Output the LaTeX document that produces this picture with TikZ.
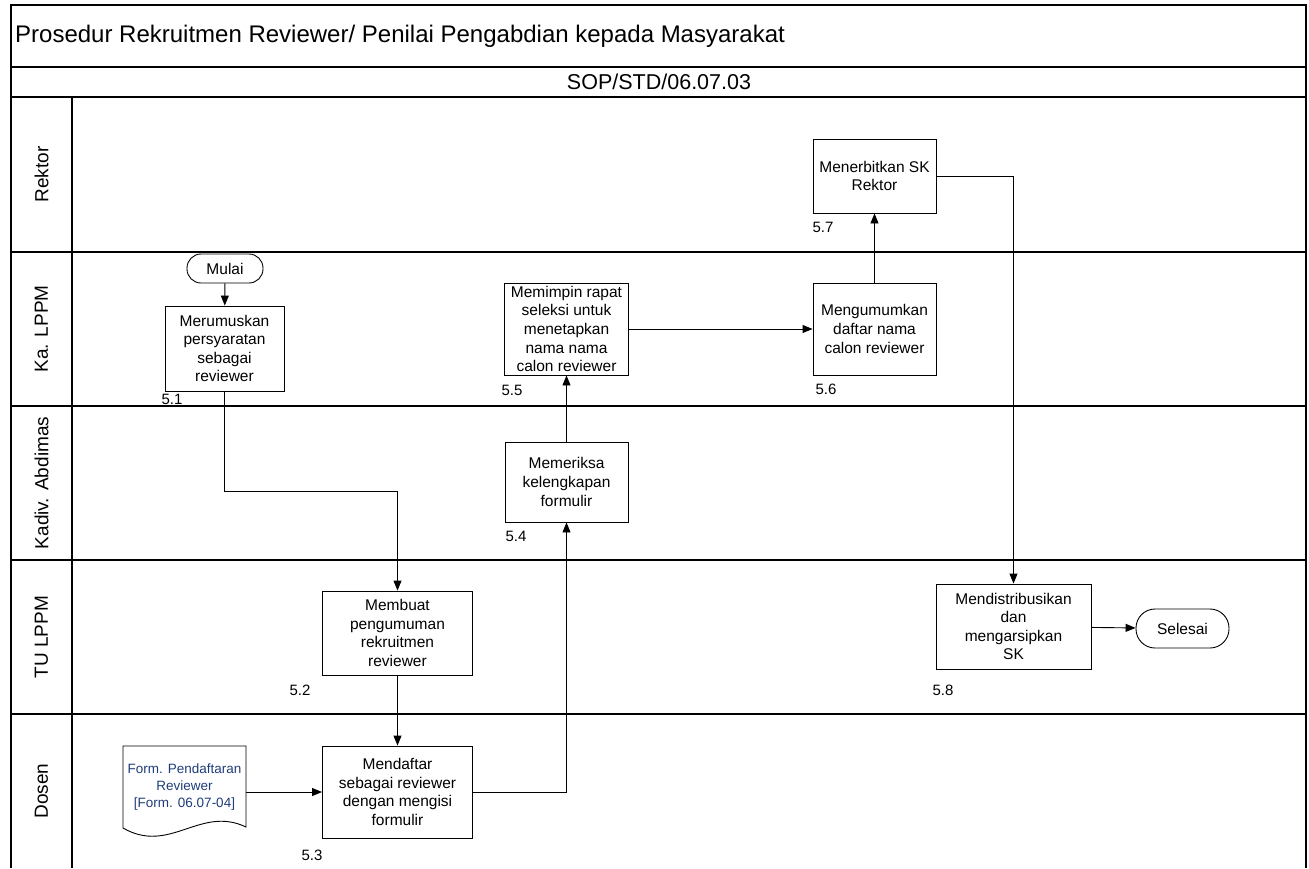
\documentclass[tikz,border=0pt]{standalone}
\usepackage{fontspec}
\setmainfont{Liberation Sans}
\usetikzlibrary{positioning,arrows.meta}
\definecolor{formblue}{HTML}{1F3C7A}

\begin{document}
\begin{tikzpicture}[
    x=1pt, y=-1pt,
    frame/.style={draw=black, line width=1.4pt},
    lane/.style={rotate=90, inner sep=0pt, font=\fontsize{19}{22}\selectfont},
    proc/.style={rectangle, draw=black, line width=0.9pt, inner sep=2pt, align=center, font=\fontsize{15.5}{18.6}\selectfont},
    term/.style={rectangle, draw=black, line width=0.9pt, align=center, font=\fontsize{15.5}{18.6}\selectfont},
    num/.style={inner sep=0pt, font=\fontsize{15}{17}\selectfont},
    form/.style={align=center, text=formblue, inner sep=0pt, minimum width=123pt, minimum height=82pt, font=\fontsize{13.5}{17}\selectfont},
    arrow/.style={-{Triangle[length=10pt,width=8pt]}, line width=0.9pt}
]
\useasboundingbox (0,0) rectangle (1309,868);

% frame and swimlanes
\draw[frame] (11,868) -- (11,5) -- (1306,5) -- (1306,868);
\draw[frame] (11,67) -- (1306,67);
\foreach \y in {97,252,406,560,714}
    \draw[frame] (11,\y) -- (1306,\y);
\draw[frame] (72,97) -- (72,868);

\node[anchor=west, inner sep=0pt, font=\fontsize{24}{28}\selectfont] (title) at (15,36) {Prosedur Rekruitmen Reviewer/ Penilai Pengabdian kepada Masyarakat};
\node[inner sep=0pt, font=\fontsize{21.5}{25}\selectfont] (sop) at (659,82) {SOP/STD/06.07.03};

\node[lane] (rektor) at (41.5,174.5) {Rektor};
\node[lane] (kalppm) at (41.5,329) {Ka. LPPM};
\node[lane] (kadiv) at (41.5,483) {Kadiv. Abdimas};
\node[lane] (tulppm) at (41.5,637) {TU LPPM};
\node[lane] (dosen) at (41.5,791) {Dosen};

% steps
\node[term, minimum width=76pt, minimum height=29pt, rounded corners=14pt] (mulai) at (225,268.5) {Mulai};
\node[proc, minimum width=119pt, minimum height=85pt] (s51) at (224.5,348.5) {Merumuskan\\persyaratan\\sebagai\\reviewer};
\node[proc, minimum width=150pt, minimum height=84pt] (s52) at (397.5,633) {Membuat\\pengumuman\\rekruitmen\\reviewer};
\node[proc, minimum width=150pt, minimum height=92pt] (s53) at (397.5,792) {Mendaftar\\sebagai reviewer\\dengan mengisi\\formulir};
\node[proc, minimum width=123pt, minimum height=80pt] (s54) at (566.5,482) {Memeriksa\\kelengkapan\\formulir};
\node[proc, minimum width=124pt, minimum height=92pt] (s55) at (566.5,329) {Memimpin rapat\\seleksi untuk\\menetapkan\\nama nama\\calon reviewer};
\node[proc, minimum width=123pt, minimum height=92pt] (s56) at (874.5,329) {Mengumumkan\\daftar nama\\calon reviewer};
\node[proc, minimum width=123pt, minimum height=74pt] (s57) at (874.5,176) {Menerbitkan SK\\Rektor};
\node[proc, minimum width=155pt, minimum height=85pt] (s58) at (1013.5,626.5) {Mendistribusikan\\dan\\mengarsipkan\\SK};
\node[term, minimum width=93pt, minimum height=39pt, rounded corners=19pt] (selesai) at (1182.5,628.5) {Selesai};

% form document
\node[form] (formulir) at (184.5,787) {Form. Pendaftaran\\Reviewer\\{[Form. 06.07-04]}};
\draw[line width=0.9pt] (123,828) -- (123,746) -- (246,746) -- (246,827)
    .. controls (200,805) and (170,855) .. (123,828);

% step numbers
\node[num] (n51) at (172,399) {5.1};
\node[num] (n52) at (300,690) {5.2};
\node[num] (n53) at (312,855) {5.3};
\node[num] (n54) at (516,536) {5.4};
\node[num] (n55) at (512,390) {5.5};
\node[num] (n56) at (826,389) {5.6};
\node[num] (n57) at (823,227) {5.7};
\node[num] (n58) at (943,690) {5.8};

\draw[arrow] (mulai) -- (s51);
\draw[arrow] (s51.south) -- ++(0,100) -| (s52.north);
\draw[arrow] (s52) -- (s53);
\draw[arrow] (formulir.east |- s53.west) -- (s53.west);
\draw[arrow] (s53.east) -| (s54.south);
\draw[arrow] (s54) -- (s55);
\draw[arrow] (s55) -- (s56);
\draw[arrow] (s56) -- (s57);
\draw[arrow] (s57.east) -| (s58.north);
\draw[arrow] (s58) -- (selesai);
\end{tikzpicture}
\end{document}
